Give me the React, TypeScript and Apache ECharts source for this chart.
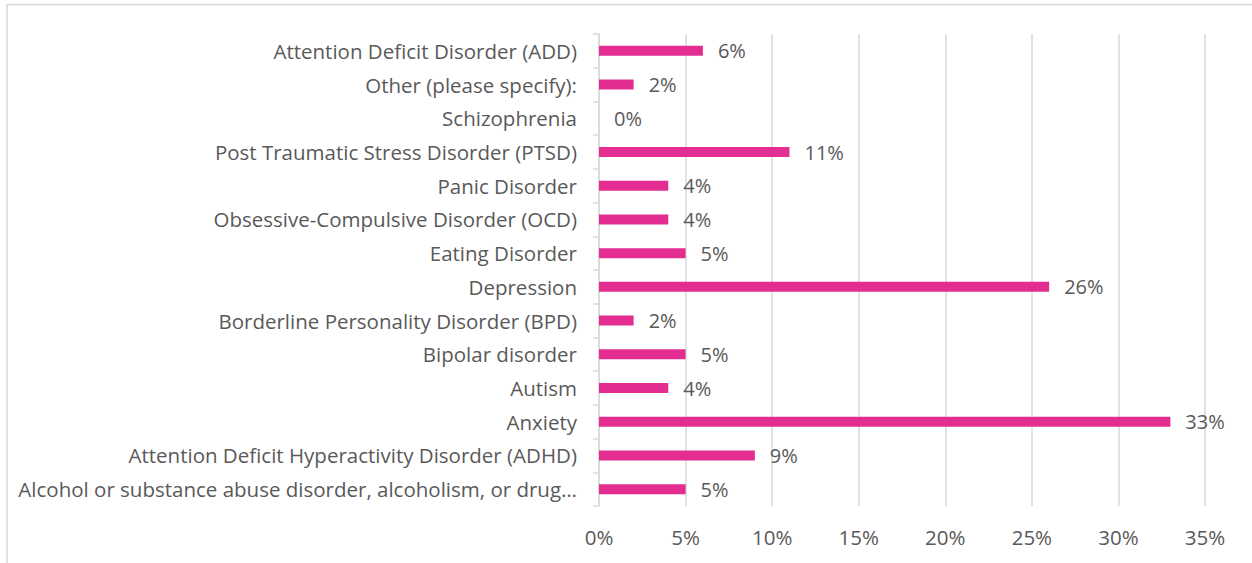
import React, { useEffect, useRef } from "react";
import * as echarts from "echarts";

const categories = [
  "Alcohol or substance abuse disorder, alcoholism, or drug…",
  "Attention Deficit Hyperactivity Disorder (ADHD)",
  "Anxiety",
  "Autism",
  "Bipolar disorder",
  "Borderline Personality Disorder (BPD)",
  "Depression",
  "Eating Disorder",
  "Obsessive-Compulsive Disorder (OCD)",
  "Panic Disorder",
  "Post Traumatic Stress Disorder (PTSD)",
  "Schizophrenia",
  "Other (please specify):",
  "Attention Deficit Disorder (ADD)",
];
const values = [5, 9, 33, 4, 5, 2, 26, 5, 4, 4, 11, 0, 2, 6];

const FONT = "'Open Sans', sans-serif";
const TEXT = "#595959";
const GRID = "#D9D9D9";

export default function App() {
  const ref = useRef<HTMLDivElement>(null);
  useEffect(() => {
    if (!ref.current) return;
    const chart = echarts.init(ref.current, undefined, { renderer: "svg" });
    chart.setOption({
      animation: false,
      backgroundColor: "#ffffff",
      graphic: [
        {
          type: "rect",
          shape: { x: 7, y: 4.5, width: 1300, height: 600 },
          style: { fill: "none", stroke: "#D9D9D9", lineWidth: 1.5 },
          silent: true,
        },
      ],
      grid: { left: 599, right: 47, top: 34, bottom: 57, containLabel: false },
      xAxis: {
        type: "value",
        min: 0,
        max: 35,
        interval: 5,
        axisLine: { show: false },
        axisTick: { show: false },
        splitLine: { show: true, lineStyle: { color: GRID, width: 1.5 } },
        axisLabel: {
          formatter: (v: number) => v + "%",
          color: TEXT,
          fontFamily: FONT,
          fontSize: 20.5,
          margin: 20,
        },
      },
      yAxis: {
        type: "category",
        data: categories,
        axisLine: { show: true, lineStyle: { color: GRID, width: 1.5 } },
        axisTick: { show: true, length: 6, lineStyle: { color: GRID, width: 1.5 } },
        axisLabel: {
          color: TEXT,
          fontFamily: FONT,
          fontSize: 20.5,
          margin: 22,
        },
      },
      series: [
        {
          type: "bar",
          data: values,
          barWidth: 10,
          itemStyle: { color: "#E32D91" },
          label: {
            show: true,
            position: "right",
            distance: 15,
            formatter: (p: any) => p.value + "%",
            color: TEXT,
            fontFamily: FONT,
            fontSize: 20,
          },
        },
      ],
    });
    return () => chart.dispose();
  }, []);
  return (
    <div
      ref={ref}
      style={{ position: "absolute", left: 0, top: 0, width: 1252, height: 563 }}
    />
  );
}
